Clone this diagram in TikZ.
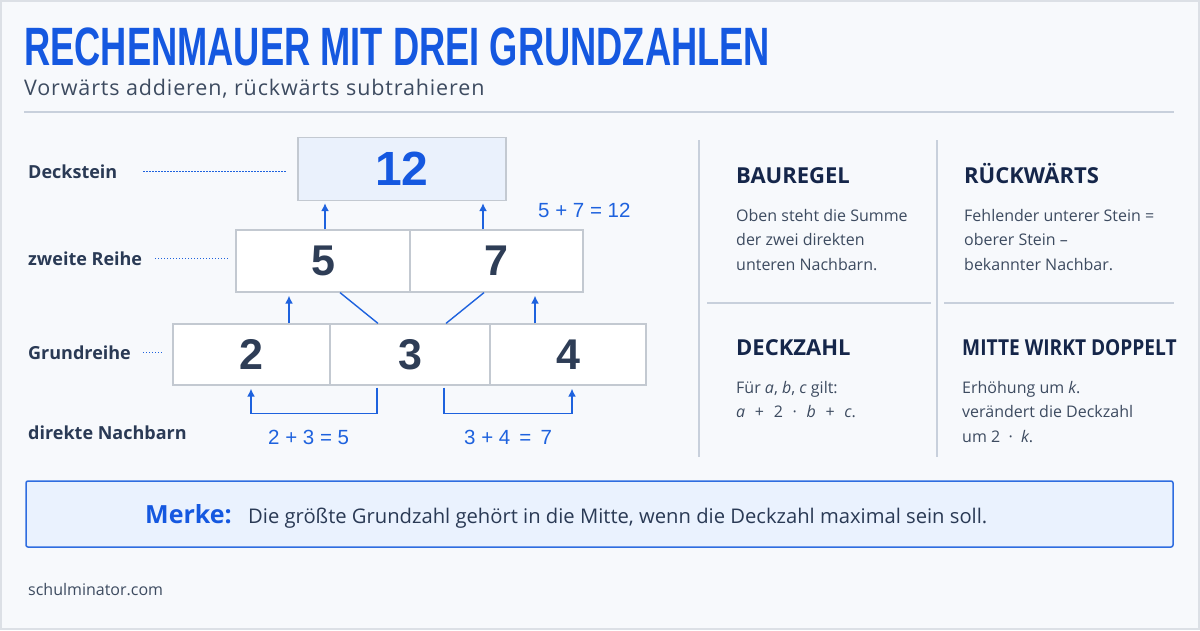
\documentclass[tikz,border=0pt]{standalone}
\usepackage{fontspec}
\usepackage{graphicx}
\setmainfont{Open Sans}
\newfontfamily\numfont{Liberation Sans}
\usetikzlibrary{arrows.meta,positioning,calc}

\definecolor{pagebg}{HTML}{F7F9FC}
\definecolor{framegray}{HTML}{DCE0E6}
\definecolor{tblue}{HTML}{1558E0}
\definecolor{mblue}{HTML}{1E62DE}
\definecolor{ink}{HTML}{2E3D56}
\definecolor{labink}{HTML}{2A3A55}
\definecolor{headink}{HTML}{15264A}
\definecolor{bodyink}{HTML}{3D4B60}
\definecolor{rulegray}{HTML}{C8D0DC}
\definecolor{brickline}{HTML}{C3C9D1}
\definecolor{topfill}{HTML}{EAF1FC}
\definecolor{merkefill}{HTML}{EAF2FE}
\definecolor{merkeline}{HTML}{2F6DE0}

\newcommand\sz[1]{\fontsize{#1}{#1}\selectfont}
\newcommand\opgap{\hspace{9.7pt}}

\begin{document}
\begin{tikzpicture}[x=1pt,y=-1pt,
  txt/.style={inner sep=0pt,anchor=base west},
  lab/.style={txt,text=labink,font=\bfseries\sz{18}},
  brick/.style={draw=brickline,fill=white,line width=1.2pt,inner sep=0pt,minimum height=62pt,text=ink,font=\numfont\bfseries\sz{43}},
  upline/.style={draw=mblue,line width=1.6pt,-{Latex[length=8pt,width=8pt]}},
  link/.style={draw=mblue,line width=1.4pt},
  leader/.style={draw=mblue,line width=1.1pt,dash pattern=on 1.1pt off 1.9pt},
  eq/.style={txt,text=mblue,font=\numfont\sz{20.5}},
  head/.style={txt,text=headink,font=\bfseries\sz{22}},
  body/.style={inner sep=0pt,anchor=north west,align=left,text=bodyink,font=\fontsize{16}{24.5}\selectfont},
  divider/.style={draw=rulegray,line width=1.2pt}]
\useasboundingbox (0,0) rectangle (1200,630);
\fill[pagebg] (0,0) rectangle (1200,630);
\draw[framegray,line width=2pt] (1,1) rectangle (1199,629);

% Kopf
\node[txt,text=tblue] (title) at (24,65) {\numfont\bfseries\sz{54}\scalebox{0.672}[1]{RECHENMAUER MIT DREI GRUNDZAHLEN}};
\node[txt,text=bodyink,font=\sz{21.5}\addfontfeature{LetterSpace=4}] (subtitle) at (24,95) {Vorwärts addieren, rückwärts subtrahieren};
\draw[rulegray,line width=1.5pt] (24,112) -- (1174,112);

% Mauer
\node[brick,fill=topfill,minimum width=208pt,minimum height=63pt,text=tblue,font=\numfont\bfseries\sz{48}] (top) at (402,169) {12};
\node[brick,minimum width=174pt] (m1) at (323,261) {5};
\node[brick,minimum width=173pt] (m2) at (496.5,261) {7};
\node[brick,minimum width=157pt,minimum height=61pt] (b1) at (251.5,354.5) {2};
\node[brick,minimum width=160pt,minimum height=61pt] (b2) at (410,354.5) {3};
\node[brick,minimum width=156pt,minimum height=61pt] (b3) at (568,354.5) {4};

\node[lab] (lDeck) at (28,178) {Deckstein};
\node[lab] (lZweite) at (28,265) {zweite Reihe};
\node[lab] (lGrund) at (28,359) {Grundreihe};
\node[lab] (lNach) at (28,439) {direkte Nachbarn};

\draw[leader,shorten <=26pt,shorten >=10pt] (lDeck.east) -- (lDeck.east -| top.west);
\draw[leader,shorten <=13pt,shorten >=8pt] (lZweite.east) -- (lZweite.east -| m1.west);
\draw[leader,shorten <=12pt,shorten >=11pt] (lGrund.east) -- (lGrund.east -| b1.west);

\draw[upline,shorten >=3pt] (b1.north -| 289,0) -- (m1.south -| 289,0);
\draw[upline,shorten >=3pt] (b3.north -| 535,0) -- (m2.south -| 535,0);
\draw[link] (m1.south -| 340,0) -- (b2.north -| 378,0);
\draw[link] (m2.south -| 484,0) -- (b2.north -| 446,0);
\draw[upline,shorten >=2pt] (m1.north -| 325,0) -- (top.south -| 325,0);
\draw[upline,shorten >=2pt] (m2.north -| 483,0) -- (top.south -| 483,0);

\draw[upline,shorten <=2pt,shorten >=3pt] (b2.south -| 377,0) -- ++(0,28) -| (b1.south -| 251,0);
\draw[upline,shorten <=2pt,shorten >=3pt] (b2.south -| 444,0) -- ++(0,28) -| (b3.south -| 572,0);

\node[eq] (eqTop) at (538,217) {5 + 7 = 12};
\node[eq] (eqLeft) at (268,444) {2 + 3 = 5};
\node[eq] (eqRight) at (464,444) {3 + 4 \,=\, 7};

% Regeln
\draw[divider] (699,140) -- (699,457);
\draw[divider] (937,140) -- (937,457);
\draw[divider] (707,303) -- (931,303);
\draw[divider] (944,303) -- (1174,303);

\node[head] (hBau) at (736,183) {BAUREGEL};
\node[body] (tBau) at (736,209) {Oben steht die Summe\\der zwei direkten\\unteren Nachbarn.};
\node[head] (hRueck) at (964,183) {RÜCKWÄRTS};
\node[body] (tRueck) at (964,209) {Fehlender unterer Stein =\\oberer Stein –\\bekannter Nachbar.};
\node[head] (hDeck) at (736,355) {DECKZAHL};
\node[body] (tDeck) at (736,381) {Für \textit{a}, \textit{b}, \textit{c} gilt:\\\textit{a}\opgap+\opgap2\opgap·\opgap\textit{b}\opgap+\opgap\textit{c}.};
\node[head] (hMitte) at (962,355) {\scalebox{0.87}[1]{MITTE WIRKT DOPPELT}};
\node[body] (tMitte) at (962,381) {Erhöhung um \textit{k}.\\verändert die Deckzahl\\um 2 \ · \ \textit{k}.};

% Merke
\node[draw=merkeline,fill=merkefill,line width=1.5pt,rounded corners=2pt,minimum width=1147pt,minimum height=66pt] (merke) at (599.5,514) {};
\node[txt,text=tblue,font=\bfseries\sz{25}] (mLabel) at (145,523) {Merke:};
\node[txt,text=labink,font=\sz{20.2}] (mText) at (248,523) {Die größte Grundzahl gehört in die Mitte, wenn die Deckzahl maximal sein soll.};

\node[txt,text=bodyink,font=\sz{16}] (site) at (28,595) {schulminator.com};
\end{tikzpicture}
\end{document}
